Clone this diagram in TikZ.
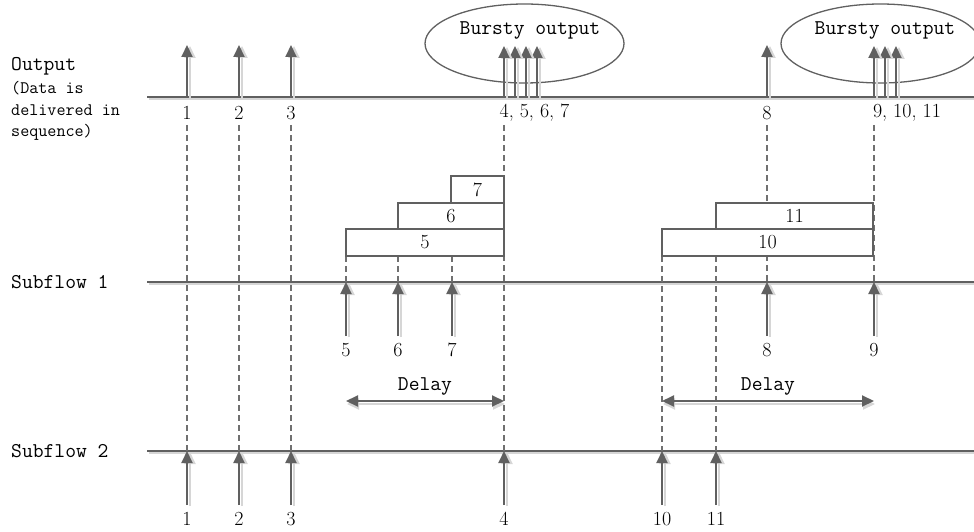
\documentclass[tikz,border=0pt]{standalone}
\usetikzlibrary{arrows.meta,shapes.geometric}
\definecolor{ln}{HTML}{606060}
\definecolor{shd}{HTML}{D6D6D6}
\definecolor{dsc}{HTML}{707070}
\begin{document}
\begin{tikzpicture}[x=1pt,y=-1pt,
  hline/.style={draw=ln, line width=1.8pt,
    preaction={draw=shd, line width=1.8pt, transform canvas={shift={(2pt,-2pt)}}}},
  arr/.style={draw=ln, line width=2pt, -{Triangle[length=12pt,width=11pt]},
    preaction={draw=shd, line width=2pt, -{Triangle[length=12pt,width=11pt]}, transform canvas={shift={(3pt,-1pt)}}}},
  darr/.style={draw=ln, line width=2pt, {Triangle[length=12pt,width=11pt]}-{Triangle[length=12pt,width=11pt]},
    preaction={draw=shd, line width=2pt, {Triangle[length=12pt,width=11pt]}-{Triangle[length=12pt,width=11pt]}, transform canvas={shift={(1pt,-3pt)}}}},
  dsh/.style={draw=dsc, line width=1.2pt, dash pattern=on 6pt off 4pt},
  box/.style={draw=ln, line width=1.5pt, fill=white, rectangle, inner sep=0pt, font=\fontsize{20}{24}\selectfont},
  num/.style={inner sep=0pt, font=\fontsize{20}{24}\selectfont},
  txt/.style={inner sep=0pt, font=\fontsize{21}{25}\selectfont\ttfamily},
  stxt/.style={inner sep=0pt, font=\fontsize{17.6}{21}\selectfont\ttfamily},
  bub/.style={draw=ln, line width=1.3pt, ellipse, inner sep=0pt, minimum width=199pt, minimum height=79pt}
]
\useasboundingbox (0,0) rectangle (974,532);

% left labels
\node[txt, anchor=base west] (lout) at (11,71) {Output};
\node[stxt, anchor=base west] (ld1) at (11,94) {(Data is};
\node[stxt, anchor=base west] (ld2) at (11,116) {delivered in};
\node[stxt, anchor=base west] (ld3) at (11,137) {sequence)};
\node[txt, anchor=west] (ls1) at (11,282) {Subflow 1};
\node[txt, anchor=west] (ls2) at (11,451) {Subflow 2};

% ellipses
\node[bub] (e1) at (524.5,43.5) {};
\node[bub] (e2) at (880.5,43.5) {};
\node[txt] (et1) at (530,30) {Bursty output};
\node[txt] (et2) at (885,30) {Bursty output};

% horizontal lines
\coordinate (oL) at (147,97);  \coordinate (oR) at (976,97);
\coordinate (aL) at (147,282); \coordinate (aR) at (976,282);
\coordinate (bL) at (147,451); \coordinate (bR) at (976,451);
\draw[hline] (oL) -- (oR);
\draw[hline] (aL) -- (aR);
\draw[hline] (bL) -- (bR);

% output labels
\node[num] (ol1) at (187,113) {1};
\node[num] (ol2) at (239,113) {2};
\node[num] (ol3) at (291,113) {3};
\node[num] (ol4) at (534.5,113) {4, 5, 6, 7};
\node[num] (ol8) at (767,113) {8};
\node[num] (ol9) at (907,113) {9, 10, 11};

% dashed top coordinates
\foreach \n/\x in {1/187,2/239,3/291,4/504,8/767,9/874} {
  \coordinate (dt\n) at (\x,125);
}
% subflow 1 arrow tips/bases
\foreach \n/\x in {5/346,6/398,7/452,8/767,9/874} {
  \coordinate (at\n) at (\x,282);
  \coordinate (ab\n) at (\x,336);
  \coordinate (bx\n) at (\x,256);
}
% subflow 2 arrow tips/bases
\foreach \n/\x in {1/187,2/239,3/291,4/504,10/662,11/716} {
  \coordinate (bt\n) at (\x,451);
  \coordinate (bb\n) at (\x,505);
}
\coordinate (bx10) at (662,256);
\coordinate (bx11) at (716,256);

% dashed connectors
\draw[dsh] (dt1) -- (bt1);
\draw[dsh] (dt2) -- (bt2);
\draw[dsh] (dt3) -- (bt3);
\draw[dsh] (dt4) -- (bt4);
\draw[dsh] (dt8) -- (at8);
\draw[dsh] (dt9) -- (at9);
\draw[dsh] (bx5) -- (at5);
\draw[dsh] (bx6) -- (at6);
\draw[dsh] (bx7) -- (at7);
\draw[dsh] (bx10) -- (bt10);
\draw[dsh] (bx11) -- (bt11);

% buffer boxes
\node[box, minimum width=158pt, minimum height=27pt] (b5) at (425,242.5) {5};
\node[box, minimum width=106pt, minimum height=26pt] (b6) at (451,216) {6};
\node[box, minimum width=53pt, minimum height=27pt] (b7) at (477.5,189.5) {7};
\node[box, minimum width=211pt, minimum height=27pt] (b10) at (767.5,242.5) {10};
\node[box, minimum width=157pt, minimum height=26pt] (b11) at (794.5,216) {11};

% output arrows
\foreach \n/\x in {1/187,2/239,3/291,8/767} {
  \coordinate (ob\n) at (\x,97); \coordinate (ot\n) at (\x,45);
  \draw[arr] (ob\n) -- (ot\n);
}
\foreach \n/\x in {7/537,6/526,5/515,4/504,11/896,10/885,9/874} {
  \coordinate (ob\n) at (\x,97); \coordinate (ot\n) at (\x,46);
  \draw[arr] (ob\n) -- (ot\n);
}

% subflow 1 arrows and labels
\foreach \n in {5,6,7,8,9} {
  \draw[arr] (ab\n) -- (at\n);
}
\node[num] (al5) at (346,350) {5};
\node[num] (al6) at (398,350) {6};
\node[num] (al7) at (452,350) {7};
\node[num] (al8) at (767,350) {8};
\node[num] (al9) at (874,350) {9};

% subflow 2 arrows and labels
\foreach \n in {1,2,3,4,10,11} {
  \draw[arr] (bb\n) -- (bt\n);
}
\node[num] (bl1) at (187,519) {1};
\node[num] (bl2) at (239,519) {2};
\node[num] (bl3) at (291,519) {3};
\node[num] (bl4) at (504,519) {4};
\node[num] (bl10) at (662,519) {10};
\node[num] (bl11) at (716,519) {11};

% delay arrows
\coordinate (dl1) at (346,401); \coordinate (dr1) at (504,401);
\coordinate (dl2) at (662,401); \coordinate (dr2) at (874,401);
\draw[darr] (dl1) -- (dr1);
\draw[darr] (dl2) -- (dr2);
\node[txt] (dly1) at (425,386) {Delay};
\node[txt] (dly2) at (768,386) {Delay};
\end{tikzpicture}
\end{document}
